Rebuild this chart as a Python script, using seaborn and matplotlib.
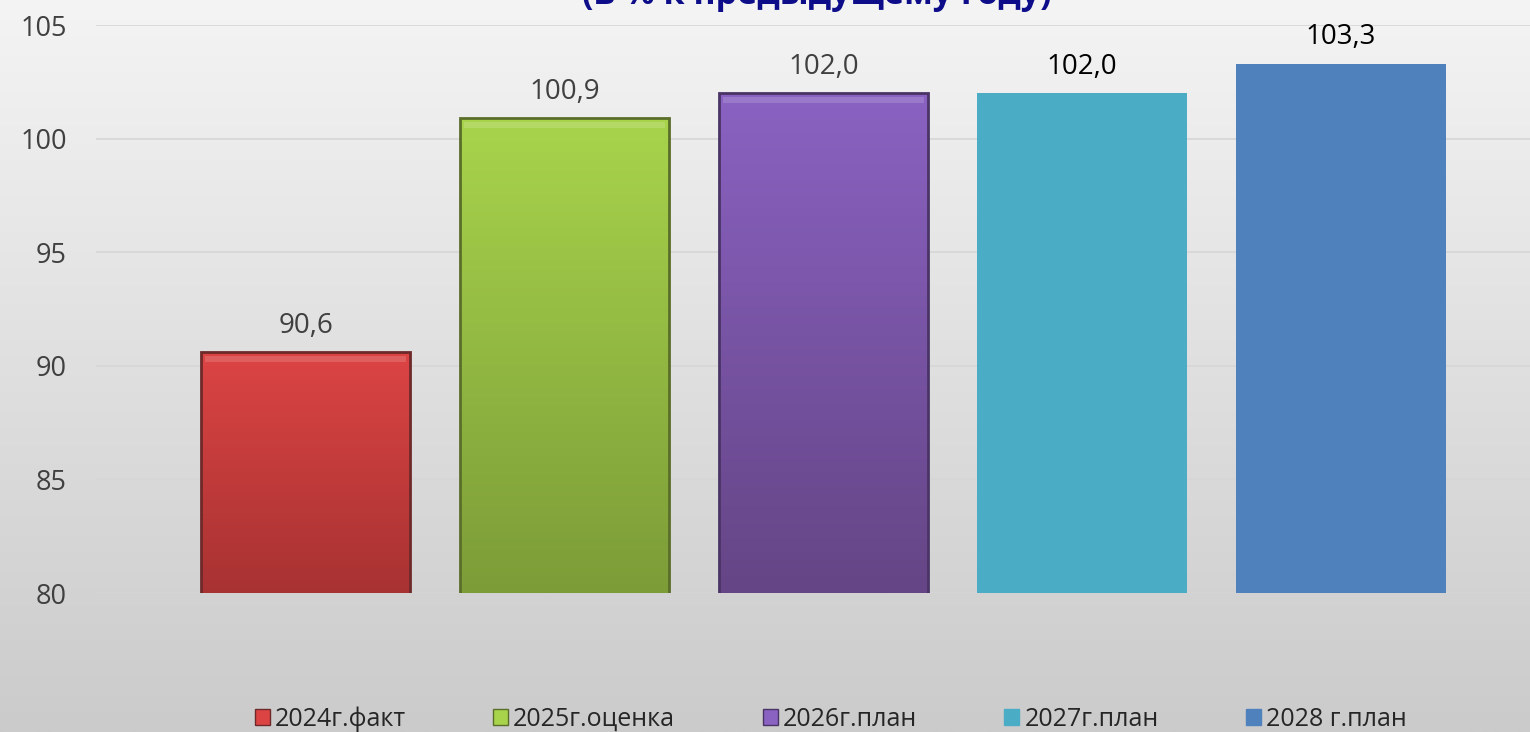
import numpy as np
import pandas as pd
import matplotlib
matplotlib.use("Agg")
import matplotlib.pyplot as plt
import matplotlib.patches as mpatches
from matplotlib.colors import LinearSegmentedColormap
import seaborn as sns

categories = ["2024г.факт", "2025г.оценка", "2026г.план", "2027г.план", "2028 г.план"]
values = [90.6, 100.9, 102.0, 102.0, 103.3]
value_labels = ["90,6", "100,9", "102,0", "102,0", "103,3"]
top_colors = ["#dc4444", "#a8d44c", "#8a62c2", "#4bacc6", "#4f81bd"]
bottom_colors = ["#a83232", "#7c9c38", "#654585", "#4bacc6", "#4f81bd"]
edge_colors = ["#6e2a2a", "#5a6e2a", "#4a3466", "none", "none"]
label_colors = ["#404040", "#404040", "#404040", "#000000", "#000000"]
yticks = [80, 85, 90, 95, 100, 105]
title = "(в % к предыдущему году)"

sns.set_theme(style="white")
plt.rcParams["font.family"] = ["Open Sans", "DejaVu Sans"]

fig = plt.figure(figsize=(15.3, 7.32), dpi=100)

# background gradient
bg = fig.add_axes([0, 0, 1, 1], zorder=0)
grad = np.linspace(0, 1, 256).reshape(-1, 1)
bg_cmap = LinearSegmentedColormap.from_list("bg", ["#f4f4f4", "#cbcbcb"])
bg.imshow(grad, aspect="auto", cmap=bg_cmap, extent=[0, 1, 0, 1], origin="upper")
bg.axis("off")

ax = fig.add_axes([96 / 1530, 1 - 593 / 732, 1 - 96 / 1530, (593 - 25) / 732], zorder=1)
ax.patch.set_alpha(0)

df = pd.DataFrame({"cat": categories, "val": values})
sns.barplot(data=df, x="cat", y="val", hue="cat", palette=top_colors, legend=False,
            width=0.81, ax=ax, zorder=3, saturation=1)

ax.set_ylim(80, 105)
ax.set_xlim(-0.81, 4.73)
ax.set_yticks(yticks)
ax.set_yticklabels([str(t) for t in yticks], fontsize=19.5, color="#404040")
ax.tick_params(axis="y", length=0, pad=21)
ax.set_xticks([])
ax.set_xlabel("")
ax.set_ylabel("")
for s in ax.spines.values():
    s.set_visible(False)
ax.yaxis.grid(True, color="#d6d6d6", linewidth=1.2, zorder=0)
ax.set_axisbelow(True)

for i, p in enumerate(ax.patches):
    x0, w, h = p.get_x(), p.get_width(), p.get_height()
    if top_colors[i] != bottom_colors[i]:
        cm = LinearSegmentedColormap.from_list("g%d" % i, [top_colors[i], bottom_colors[i]])
        im = ax.imshow(grad, aspect="auto", cmap=cm, extent=[x0, x0 + w, 80, h],
                       origin="upper", zorder=3.5)
        im.set_clip_path(p)
        p.set_edgecolor(edge_colors[i])
        p.set_linewidth(2.0)
        p.set_zorder(4)
        p.set_facecolor("none")
        ax.add_patch(mpatches.Rectangle((x0 + w * 0.02, h - 0.45), w * 0.96, 0.3,
                                        facecolor="white", alpha=0.15, edgecolor="none", zorder=4))
    else:
        p.set_edgecolor("none")
    ax.annotate(value_labels[i], (x0 + w / 2, h), xytext=(0, 14), textcoords="offset points",
                ha="center", va="baseline", fontsize=20, color=label_colors[i], zorder=5)

ax.set_ylim(80, 105)
ax.set_xlim(-0.81, 4.73)

fig.text(0.534, 1 - 4 / 732, title, ha="center", va="baseline", fontsize=24.5,
         fontweight="bold", color="#0d0d8a", zorder=5)

handles = [mpatches.Patch(facecolor=top_colors[i],
                          edgecolor=edge_colors[i] if edge_colors[i] != "none" else top_colors[i],
                          linewidth=1) for i in range(5)]
leg = fig.legend(handles, categories, loc="center", bbox_to_anchor=(0.543, 1 - 719 / 732),
                 ncol=5, frameon=False, fontsize=18, handlelength=0.6, handleheight=0.6,
                 handletextpad=0.2, columnspacing=3.5, labelcolor="#262626")
leg.set_zorder(5)

fig.savefig("out.png", dpi=100)
